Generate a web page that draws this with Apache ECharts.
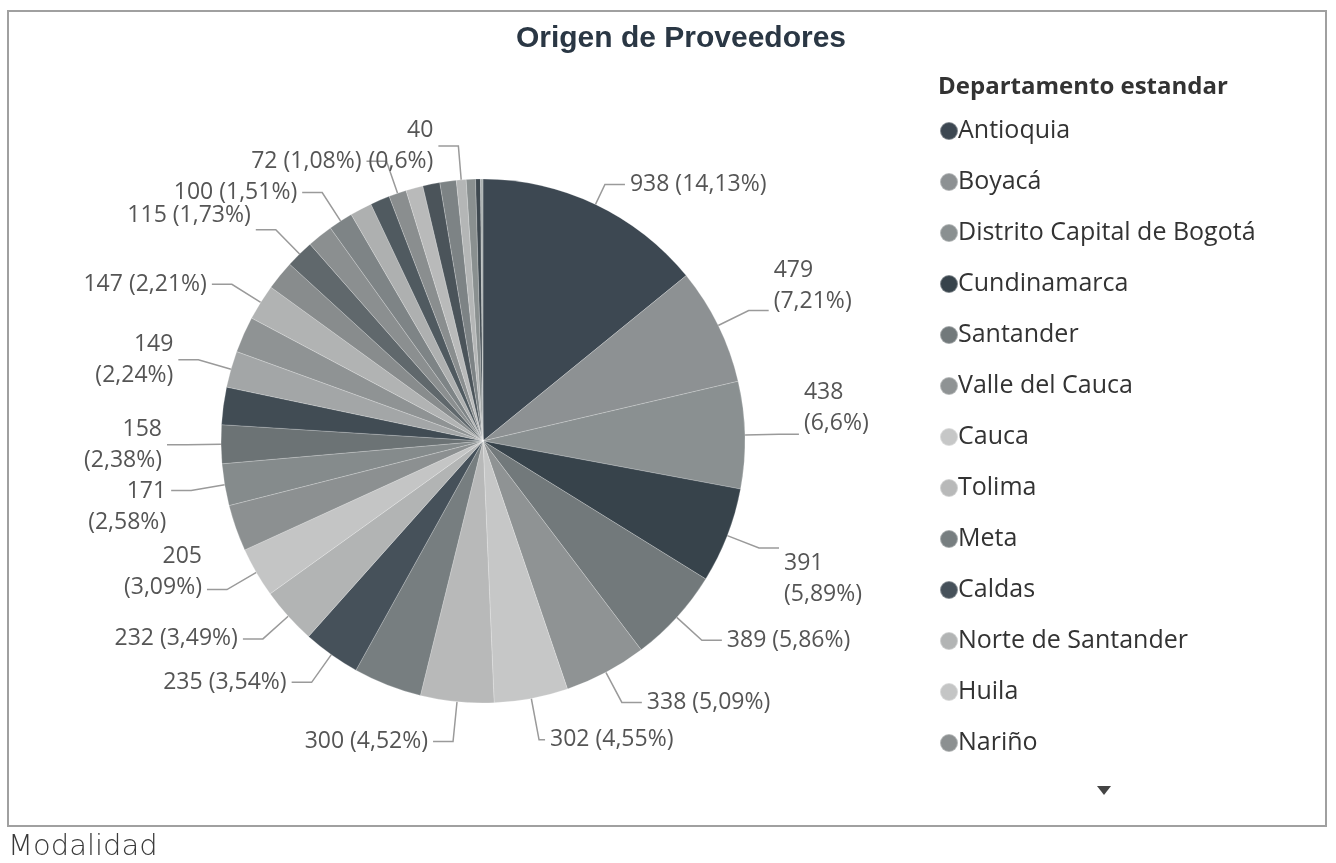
<!DOCTYPE html>
<html>
<head>
<meta charset="utf-8">
<script src="https://cdn.jsdelivr.net/npm/echarts@6/dist/echarts.min.js"></script>
<style>
  html, body { margin: 0; padding: 0; background: #ffffff; }
  #chart { width: 1336px; height: 863px; }
</style>
</head>
<body>
<div id="chart"></div>
<script>
// ---- data (sorted descending as in the reference) ----
const categories = [
  'Antioquia', 'Boyacá', 'Distrito Capital de Bogotá', 'Cundinamarca', 'Santander',
  'Valle del Cauca', 'Cauca', 'Tolima', 'Meta', 'Caldas', 'Norte de Santander', 'Huila',
  'Nariño', 'Bolívar', 'Atlántico', 'Risaralda', 'Quindío', 'Córdoba', 'Cesar',
  'Magdalena', 'Casanare', 'Sucre', 'Caquetá', 'La Guajira', 'Putumayo', 'Chocó',
  'Arauca', 'Archipiélago de San Andrés', 'Amazonas', 'Guaviare', 'Vichada', 'Guainía', 'Vaupés'
];
const values = [
  938, 479, 438, 391, 389,
  338, 302, 300, 280, 235, 232, 205,
  190, 171, 158, 153, 149, 148, 147,
  120, 115, 105, 100, 90, 80, 72,
  70, 70, 67, 40, 38, 20, 10
];
// label mode per slice: 0 hidden, 1 one line, 2 two lines
const labelModes = [
  1, 2, 2, 2, 1,
  1, 1, 1, 0, 1, 1, 2,
  0, 2, 2, 0, 2, 0, 1,
  0, 1, 0, 1, 0, 0, 1,
  0, 0, 0, 2, 0, 0, 0
];
const sliceColors = [
  '#3d4852', '#8d9193', '#8a9091', '#37434b', '#72797b',
  '#8f9394', '#c6c7c7', '#b8b9b9', '#777e80', '#46515a', '#b2b4b4', '#c4c5c5',
  '#8c9091', '#858b8c', '#6c7375', '#414c54', '#a3a6a7', '#8f9394', '#b1b3b3',
  '#888c8d', '#60686c', '#8b8f90', '#7e8486', '#aeb0b0', '#505a60', '#8a8e8f',
  '#b9baba', '#4b545a', '#7d8385', '#b4b6b6', '#8a9090', '#3f4950', '#aab0b0'
];
const legendCount = 13;

// label style tweaks per slice index (styles only)
const lineLengthTweaks = { 0: [22, 20], 6: [42, 6], 7: [40, 20] };
const labelShiftTweaks = { 1: -25, 2: -26, 3: 31, 11: -18, 13: 16, 20: -14 };

const total = values.reduce((a, b) => a + b, 0);
function pctText(v) {
  const p = parseFloat((v / total * 100).toFixed(2));
  return String(p).replace('.', ',');
}

const FONT = "'Open Sans', 'Noto Sans', sans-serif";

const richStyles = { t: { fontFamily: FONT, fontSize: 23, lineHeight: 31, color: '#555555' } };
Object.keys(labelShiftTweaks).forEach(k => {
  const a = Math.abs(labelShiftTweaks[k]);
  richStyles['s' + a] = { fontSize: 1, lineHeight: 2 * a };
});

const pieData = categories.map((name, i) => {
  const shown = labelModes[i] > 0;
  const item = {
    name: name,
    value: values[i],
    itemStyle: { color: sliceColors[i] },
    label: { show: shown },
    labelLine: { show: shown }
  };
  if (lineLengthTweaks[i] !== undefined) {
    item.labelLine.length = lineLengthTweaks[i][0];
    item.labelLine.length2 = lineLengthTweaks[i][1];
  }
  return item;
});

const chart = echarts.init(document.getElementById('chart'), null, { renderer: 'canvas' });
chart.setOption({
  backgroundColor: '#ffffff',
  animation: false,
  title: [
    {
      text: 'Origen de Proveedores',
      left: 676, top: 19, textAlign: 'center',
      textStyle: { fontFamily: "'Liberation Sans', Arial, sans-serif", fontSize: 30, fontWeight: 'bold', color: '#2a3744' }
    },
    {
      text: 'Departamento estandar',
      left: 933, top: 70,
      textStyle: { fontFamily: FONT, fontSize: 24, fontWeight: 'bold', color: '#333333' }
    },
    {
      text: 'Modalidad',
      left: 3, top: 828,
      textStyle: { fontFamily: "'DejaVu Sans', sans-serif", fontSize: 29, fontWeight: 300, color: '#3a3a3a' }
    }
  ],
  legend: {
    orient: 'vertical',
    left: 934, top: 111,
    data: categories.slice(0, legendCount),
    icon: 'circle',
    itemWidth: 18, itemHeight: 18,
    itemGap: 21,
    textStyle: { fontFamily: FONT, fontSize: 25, color: '#333333', lineHeight: 30, padding: [0, 0, 0, -5] },
    selectedMode: false
  },
  graphic: [
    {
      type: 'rect', silent: true,
      shape: { x: 8, y: 11, width: 1318, height: 815 },
      style: { fill: 'none', stroke: '#a0a0a0', lineWidth: 2 }
    },
    {
      type: 'polygon', silent: true,
      shape: { points: [[1097, 786], [1111, 786], [1104, 795]] },
      style: { fill: '#444444' }
    }
  ],
  series: [{
    type: 'pie',
    center: [483, 441],
    radius: [0, 262],
    startAngle: 90,
    clockwise: true,
    avoidLabelOverlap: false,
    labelLayout: { hideOverlap: false },
    data: pieData,
    itemStyle: { borderColor: 'rgba(255,255,255,0.35)', borderWidth: 0.6 },
    label: {
      position: 'outside',
      fontFamily: FONT,
      fontSize: 23,
      color: '#555555',
      lineHeight: 31,
      rich: richStyles,
      formatter: function (p) {
        const i = p.dataIndex;
        const pct = pctText(p.value);
        const lines = labelModes[i] === 2 ? [String(p.value), '(' + pct + '%)'] : [p.value + ' (' + pct + '%)'];
        let body = lines.map(l => '{t|' + l + '}').join('\n');
        const s = labelShiftTweaks[i];
        if (s !== undefined) {
          const tag = '{s' + Math.abs(s) + '| }';
          body = s < 0 ? body + '\n' + tag : tag + '\n' + body;
        }
        return body;
      }
    },
    labelLine: {
      length: 34, length2: 20,
      lineStyle: { color: '#9a9a9a', width: 1.5 }
    },
    emphasis: { disabled: true }
  }]
});
</script>
</body>
</html>
